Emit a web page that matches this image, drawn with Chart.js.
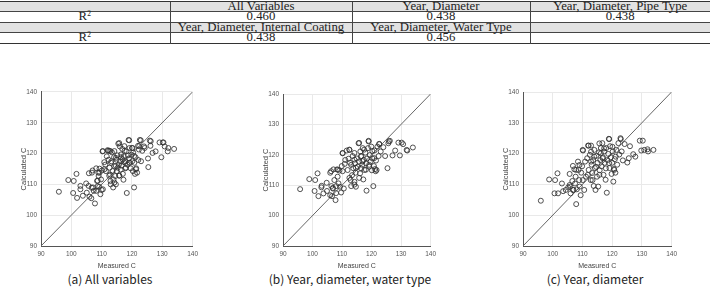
<!DOCTYPE html>
<html>
<head>
<meta charset="utf-8">
<script src="https://cdn.jsdelivr.net/npm/chart.js@4.4.1/dist/chart.umd.min.js"></script>
<style>
body{margin:0;width:710px;height:287px;background:#fff;position:relative;overflow:hidden;}
table.r2{position:absolute;left:0;top:-1px;width:710px;border-collapse:collapse;font-family:"Liberation Serif","Times New Roman",serif;font-weight:normal;font-size:12.8px;color:#222;border-top:3px double #333;border-bottom:1px solid #333;}
table.r2 td{height:9.4px;line-height:9.4px;padding:0;text-align:center;font-weight:normal;border-left:1px solid #444;border-top:1px solid #444;white-space:nowrap;overflow:visible;}
table.r2 td:first-child{border-left:none;}
table.r2 tr.g td{background:#e2e2e2;}
table.r2 sup{font-size:7.5px;line-height:0;vertical-align:4px;}
.panel{position:absolute;}
.cap{position:absolute;top:271px;font-family:"Noto Sans CJK KR","Noto Sans",sans-serif;font-size:12px;color:#222;text-align:center;white-space:nowrap;line-height:16px;}
</style>
</head>
<body>
<table class="r2">
  <colgroup><col style="width:170px"><col style="width:182px"><col style="width:178px"><col style="width:180px"></colgroup>
  <tr class="g"><td></td><td>All Variables</td><td>Year, Diameter</td><td>Year, Diameter, Pipe Type</td></tr>
  <tr><td>R<sup>2</sup></td><td>0.460</td><td>0.438</td><td>0.438</td></tr>
  <tr class="g"><td></td><td>Year, Diameter, Internal Coating</td><td>Year, Diameter, Water Type</td><td></td></tr>
  <tr><td>R<sup>2</sup></td><td>0.438</td><td>0.456</td><td></td></tr>
</table>

<div class="panel" id="pa"><canvas id="ca"></canvas></div>
<div class="panel" id="pb"><canvas id="cb"></canvas></div>
<div class="panel" id="pc"><canvas id="cc"></canvas></div>

<div class="cap" style="left:20px;width:180px">(a) All variables</div>
<div class="cap" style="left:245px;width:210px">(b) Year, diameter, water type</div>
<div class="cap" style="left:505px;width:180px">(c) Year, diameter</div>

<script>
// axis range / ticks shared by all three panels
var tickValues = [90, 100, 110, 120, 130, 140];
var refLine = [90, 140];

// (a) All variables
var measA = [95.9, 99, 100.8, 100.6, 101.7, 101.9, 103, 103, 103.8, 104.9, 105.1, 105.8, 105.7, 106, 106.6, 106.7, 106.8, 107,
  107.4, 107.8, 108.2, 108.5, 108.7, 108.9, 109, 109.2, 109.3, 109.6, 109.8, 110, 110.1, 110.4, 110.3, 110.9, 111.2, 111.4,
  111.7, 112.1, 112.3, 112.5, 112.6, 112.8, 112.9, 113, 113.2, 113.4, 113.6, 113.8, 113.9, 114.1, 114.2, 114.5, 114.7, 114.9,
  115, 115.2, 115.3, 115.5, 115.7, 115.8, 116, 116.1, 116.3, 116.4, 116.6, 116.8, 117, 117.2, 117.3, 117.4, 117.6, 117.8,
  117.9, 118.2, 118.3, 118.5, 118.7, 118.9, 119, 119.2, 119.3, 119.6, 119.8, 120, 120.1, 120.3, 120.4, 120.7, 120.8, 121,
  121.2, 121.4, 121.7, 122, 122.1, 122.3, 122.6, 123, 123.4, 124, 124.2, 125.3, 125.4, 125.9, 126.1, 126.8, 127.8, 129.1,
  129.7, 130.2, 130.4, 130.8, 131.8, 132, 133.9,
  110.4, 112, 112.9, 115.8, 119.1, 122.9, 126.2, 117.5, 120.2, 122.4, 114.7, 113.1, 116.9, 119.1, 121.3, 110.9, 109.3, 112.5,
  114.2, 115.8, 118, 108.7, 107.1, 108.2, 114.7, 116.4, 120.7, 114.2];
var calcA = [107.6, 111.4, 111.1, 107.2, 113.4, 105.6, 109.5, 108.4, 106.3, 110.3, 107.3, 113.6, 109.5, 106, 105.5, 108.9, 113.8, 114.5,
  107.9, 103.8, 115.2, 111.1, 109.4, 113.8, 112.7, 109.2, 115.1, 106.8, 111.6, 108.2, 114.5, 108.4, 120.7, 117.2, 116.4, 114.3,
  119.1, 120.9, 118, 120.9, 115.4, 113.2, 111.1, 110, 117.5, 120.4, 114.3, 109, 111.6, 118.8, 115.9, 112.7, 110, 118,
  114.3, 119.4, 115.4, 123.2, 116.4, 112.9, 122.3, 117.5, 114.8, 118.8, 116.1, 121.5, 113.4, 111.5, 119.1, 117.2, 120.9, 115.2,
  117.5, 120.7, 107.2, 116.4, 119.4, 124.4, 118.4, 121.8, 117, 115.2, 119.6, 121.8, 117.5, 114.3, 120.3, 109, 117, 113.4,
  118.8, 115.2, 113.8, 122.5, 117.9, 121.3, 124.4, 117.5, 120.9, 122.3, 121.8, 118.4, 115.6, 124.2, 122.5, 120.2, 120.7, 123.6,
  118.8, 123.6, 123.6, 122.3, 120.7, 121.8, 121.5,
  120.8, 121.1, 120.8, 123.4, 124.3, 124.3, 124, 122.4, 121.8, 122.4, 118.6, 117, 118.1, 117, 114.9, 114.9, 113.8, 112.8,
  110.6, 112.8, 115.4, 111.2, 109, 107.9, 116, 119.7, 119.2, 120.8];

// (b) Year, diameter, water type
var measB = [95.8, 98.9, 100.7, 100.9, 101.7, 102, 103, 103.1, 103.7, 104.8, 104.9, 106, 106, 106.4, 106.6, 106.9, 107.1, 107.4,
  107.8, 108, 108.3, 108.5, 108.8, 109.1, 109.3, 109.7, 109.9, 110.2, 110.6, 110.9, 111.1, 111.6, 111.9, 112.2, 112.5, 112.7,
  112.9, 113.1, 113.4, 113.6, 113.8, 114.2, 114.4, 114.6, 114.7, 115, 115.3, 115.6, 115.7, 116.1, 116.2, 116.4, 116.6, 116.9,
  117, 117.2, 117.4, 117.6, 117.9, 118.1, 118.3, 118.5, 118.8, 119, 119.2, 119.4, 119.7, 119.9, 120.1, 120.3, 120.6, 120.8,
  121, 121.2, 121.5, 121.7, 122, 122.4, 122.6, 123.1, 124, 124.6, 125.4, 125.7, 126.2, 127.1, 128, 129.1, 129.6, 130.2,
  130.7, 131.9, 132.1, 134,
  110.2, 112.5, 115.8, 119, 122.6, 125.9, 117.5, 120.3, 114.2, 113.1, 116.9, 119.2, 121.4, 110.2, 108.6, 112.5, 114.2, 115.8,
  118.1, 106.9, 108, 114.7, 116.4, 120.9, 114.2, 106.3];
var calcB = [108.7, 112, 108.1, 111.7, 113.9, 106.4, 109.3, 109.8, 107.3, 110.8, 108.1, 114.1, 106.7, 109.7, 106.4, 108.9, 115.2, 111.7,
  105.1, 109.7, 115.2, 112.8, 110.6, 114.8, 109.5, 107.6, 116.3, 120.5, 108.9, 117, 118.3, 121.4, 115, 118.7, 121.6, 117.4,
  111.7, 109.7, 113.3, 119.6, 115.6, 111.1, 117.2, 114.1, 109.5, 118.8, 116.1, 123.8, 117.8, 113.9, 121.1, 115.6, 119.6, 116.7,
  122.2, 111.9, 118.3, 115, 120.7, 117.2, 108.2, 118.8, 122.2, 124.6, 116.1, 119.9, 117.8, 122.7, 114.9, 118.8, 109.7, 116.3,
  121.4, 115.3, 118.1, 115, 122.7, 119.6, 123.5, 121.1, 122.5, 119.6, 115.6, 123.8, 124.6, 119.8, 121.4, 124, 119.8, 124,
  123.5, 121.6, 121.4, 122.4,
  120.6, 121.7, 123.9, 124.4, 123.6, 124.4, 121.7, 121.2, 118.4, 116.7, 117.9, 116.7, 114.6, 114.6, 115.1, 112.4, 110.2, 112.4,
  115.1, 109.1, 107.4, 115.7, 119.5, 118.9, 120.6, 114.6];

// (c) Year, diameter
var measC = [96, 98.8, 100.6, 100.8, 101.6, 101.8, 103.1, 103.5, 104.4, 105.2, 105.7, 105.9, 106, 106.6, 106.8, 107, 107.3, 107.5,
  107.7, 107.9, 108.1, 108.5, 108.7, 108.9, 109.1, 109.4, 109.6, 109.9, 110.2, 110.6, 110.9, 111.2, 111.6, 111.9, 112.1, 112.5,
  112.8, 112.9, 113.1, 113.3, 113.6, 113.8, 114, 114.2, 114.4, 114.7, 114.9, 115.1, 115.3, 115.6, 115.8, 116, 116.2, 116.4,
  116.7, 116.9, 117.1, 117.3, 117.5, 117.8, 118, 118.2, 118.4, 118.7, 118.9, 119.1, 119.3, 119.5, 119.8, 120, 120.2, 120.4,
  120.6, 120.9, 121.1, 121.4, 121.7, 122.1, 122.4, 122.8, 123.2, 123.6, 124.2, 125.1, 125.6, 126, 127.1, 127.8, 129.3, 129.8,
  130.3, 130.8, 131.9, 132.1, 133.9,
  110.1, 112.1, 115.7, 119, 122.9, 117.3, 120.1, 114, 112.9, 116.8, 119, 120.7, 109, 107.9, 111.8, 113.4, 115.7, 117.9,
  105.7, 106.8, 114.6, 116.2, 121.2, 112.9, 110.1];
var calcC = [104.7, 111.6, 107.1, 111.4, 113.6, 107.1, 110.3, 107.8, 108.2, 109, 113.4, 109.3, 107.1, 111.1, 116, 108.2, 114.9, 110.3,
  112.5, 103.6, 108.4, 117.4, 114.7, 111.4, 109.3, 106.5, 113.8, 115.9, 121, 108.2, 117.4, 112.5, 118.5, 122.6, 114.7, 119.6,
  111.4, 122.6, 116.4, 113.7, 117.9, 109.5, 121.2, 115.3, 108.2, 119.3, 112.5, 117, 109.3, 120.4, 114.6, 117.9, 121.8, 115.9,
  123.4, 118.8, 113.1, 120.7, 117, 111.5, 121.8, 107.3, 117.9, 119.9, 124.8, 115.3, 122.4, 118.8, 113.4, 117, 120.7, 110.9,
  115, 118.2, 113.8, 121.2, 116.4, 123.4, 119.7, 125, 120.7, 117.8, 123.1, 117.1, 118.5, 122.4, 119.8, 119, 124.2, 121,
  124.2, 121.2, 121.4, 120.7, 121.2,
  121.2, 122.6, 123.3, 124.7, 124.7, 121.7, 122.2, 119, 117.4, 118.5, 116.9, 114.7, 116.3, 114.7, 113.1, 111.4, 113.1, 115.2,
  109.8, 108.2, 115.7, 120.1, 119, 120.6, 111.4];

function pairs(xs, ys) {
  var out = [];
  for (var i = 0; i < xs.length; i++) out.push({x: xs[i], y: ys[i]});
  return out;
}

// page boxes of the plot areas (left, top, right, bottom)
var yAxisW = 31, xAxisH = 24, canvasTop = 84, canvasBottom = 270;

function makePanel(panelId, canvasId, area, meas, calc, showYTitle) {
  var w = (area.r - area.l) + yAxisW + 8;
  var h = canvasBottom - canvasTop;
  var panel = document.getElementById(panelId);
  panel.style.left = (area.l - yAxisW) + 'px';
  panel.style.top = canvasTop + 'px';
  panel.style.width = w + 'px';
  panel.style.height = h + 'px';

  var tickFont = {family: 'Arial, "Liberation Sans", sans-serif', size: 6.5};
  var axisCommon = {
    type: 'linear', min: refLine[0], max: refLine[1],
    afterBuildTicks: function (s) { s.ticks = tickValues.map(function (v) { return {value: v}; }); },
    grid: {color: '#e9e9e9', lineWidth: 1, drawTicks: false},
    border: {color: '#555', width: 1},
    ticks: {font: tickFont, color: '#555', padding: 4}
  };

  new Chart(document.getElementById(canvasId), {
    type: 'scatter',
    data: {
      datasets: [
        {
          data: pairs(meas, calc),
          pointStyle: 'circle', pointRadius: 2.5,
          borderColor: '#333', borderWidth: 0.85,
          backgroundColor: 'rgba(0,0,0,0)'
        },
        {
          type: 'line',
          data: pairs(refLine, refLine),
          borderColor: '#666', borderWidth: 1,
          pointRadius: 0, fill: false
        }
      ]
    },
    options: {
      responsive: true, maintainAspectRatio: false, animation: false,
      layout: {padding: {top: area.t - canvasTop, right: 8, left: 0, bottom: 0}},
      plugins: {legend: {display: false}, tooltip: {enabled: false}},
      scales: {
        x: Object.assign({}, axisCommon, {
          position: 'bottom',
          title: {display: true, text: 'Measured C', font: {family: tickFont.family, size: 7}, color: '#444', padding: {top: 1, bottom: 0}},
          afterFit: function (s) { s.height = xAxisH; }
        }),
        y: Object.assign({}, axisCommon, {
          position: 'left',
          title: {display: showYTitle, text: 'Calculated C', font: {family: tickFont.family, size: 7.5}, color: '#444', padding: {top: 9, bottom: 1}},
          afterFit: function (s) { s.width = yAxisW; }
        })
      }
    }
  });
}

makePanel('pa', 'ca', {l: 41, t: 90, r: 194, b: 246}, measA, calcA, true);
makePanel('pb', 'cb', {l: 283, t: 94, r: 432, b: 246}, measB, calcB, true);
makePanel('pc', 'cc', {l: 523, t: 92, r: 673, b: 246}, measC, calcC, true);
</script>
</body>
</html>
